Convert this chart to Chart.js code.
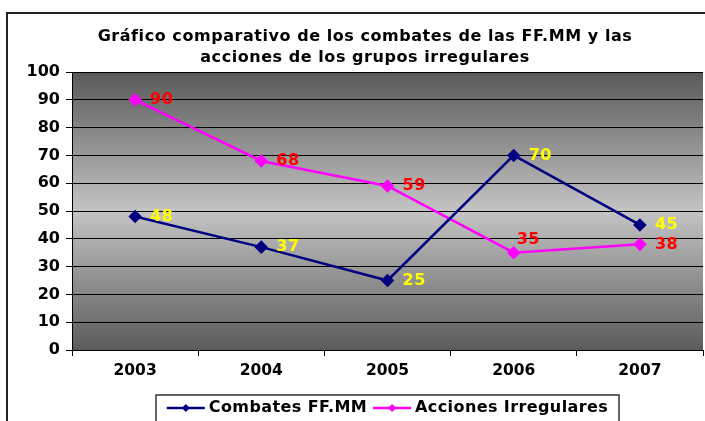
<!DOCTYPE html>
<html>
<head>
<meta charset="utf-8">
<script src="https://cdn.jsdelivr.net/npm/chart.js@4"></script>
<style>
  html, body { margin: 0; padding: 0; background: #fff; overflow: hidden; }
  #wrap { position: relative; width: 705px; height: 421px; }
  #frame { position: absolute; left: 6px; top: 12px; width: 720px; height: 440px; border: 2px solid #222; box-sizing: border-box; }
  canvas { position: absolute; left: 0; top: 0; }
</style>
</head>
<body>
<div id="wrap">
  <div id="frame"></div>
  <canvas id="chart" width="705" height="421"></canvas>
</div>
<script>
const years = ['2003', '2004', '2005', '2006', '2007'];
const combates = [48, 37, 25, 70, 45];
const acciones = [90, 68, 59, 35, 38];
const titleLines = ['Gráfico comparativo de los combates de las FF.MM y las', 'acciones de los grupos irregulares'];
const FONT = '"DejaVu Sans", Verdana, sans-serif';

// gray gradient behind the plot
const plotBackground = {
  id: 'plotBackground',
  beforeDraw(chart) {
    const { ctx, chartArea: a } = chart;
    const g = ctx.createLinearGradient(0, a.top, 0, a.bottom);
    g.addColorStop(0, '#595959');
    g.addColorStop(0.5, '#c4c4c4');
    g.addColorStop(1, '#5b5b5b');
    ctx.save();
    ctx.fillStyle = g;
    ctx.fillRect(a.left, a.top, a.right - a.left, a.bottom - a.top);
    ctx.restore();
  }
};

// title, value labels and boxed legend
const extras = {
  id: 'extras',
  afterDatasetsDraw(chart) {
    const ctx = chart.ctx;
    ctx.save();
    ctx.font = 'bold 16px ' + FONT;
    ctx.letterSpacing = '0.5px';
    ctx.textBaseline = 'middle';
    ctx.textAlign = 'left';
    chart.data.datasets.forEach((ds, i) => {
      const meta = chart.getDatasetMeta(i);
      meta.data.forEach((pt, j) => {
        ctx.fillStyle = ds.labelColor;
        let x = pt.x + 15, y = pt.y;
        if (ds.labelAbove && ds.labelAbove.includes(j)) { x = pt.x + 3; y = pt.y - 13; }
        ctx.fillText(String(ds.data[j]), x, y);
      });
    });
    ctx.restore();
  },
  afterDraw(chart) {
    const ctx = chart.ctx;
    ctx.save();
    ctx.fillStyle = '#000';
    ctx.font = 'bold 16px ' + FONT;
    ctx.letterSpacing = '0.55px';
    ctx.textAlign = 'center';
    ctx.textBaseline = 'middle';
    ctx.fillText(titleLines[0], 365, 37);
    ctx.fillText(titleLines[1], 365, 58);

    ctx.font = 'bold 16px ' + FONT;
    ctx.letterSpacing = '0.4px';
    ctx.textAlign = 'left';
    const lineW = 38, gap = 4, between = 6;
    const items = chart.data.datasets.map(ds => ({ ds, w: ctx.measureText(ds.label).width }));
    const total = items.reduce((s, it) => s + lineW + gap + it.w, 0) + between * (items.length - 1);
    const boxL = 156, boxR = 619, boxT = 395;
    ctx.fillStyle = '#fff';
    ctx.fillRect(boxL, boxT, boxR - boxL, 30);
    ctx.strokeStyle = '#333';
    ctx.lineWidth = 1.5;
    ctx.strokeRect(boxL, boxT, boxR - boxL, 30);
    let x = (boxL + boxR) / 2 - total / 2;
    const y = 408;
    items.forEach(it => {
      ctx.strokeStyle = it.ds.borderColor;
      ctx.lineWidth = 2.5;
      ctx.beginPath();
      ctx.moveTo(x, y);
      ctx.lineTo(x + lineW, y);
      ctx.stroke();
      ctx.fillStyle = it.ds.borderColor;
      ctx.beginPath();
      const cx = x + lineW / 2;
      ctx.moveTo(cx, y - 4); ctx.lineTo(cx + 4, y); ctx.lineTo(cx, y + 4); ctx.lineTo(cx - 4, y);
      ctx.closePath();
      ctx.fill();
      ctx.fillStyle = '#000';
      ctx.fillText(it.ds.label, x + lineW + gap, y);
      x += lineW + gap + it.w + between;
    });
    ctx.restore();
  }
};

new Chart(document.getElementById('chart'), {
  type: 'line',
  data: {
    labels: years,
    datasets: [
      {
        label: 'Combates FF.MM',
        data: combates,
        borderColor: '#000080',
        backgroundColor: '#000080',
        labelColor: '#ffff00',
        borderWidth: 2.5,
        pointStyle: 'rectRot',
        pointRadius: 5,
        pointHoverRadius: 5,
        tension: 0
      },
      {
        label: 'Acciones Irregulares',
        data: acciones,
        borderColor: '#ff00ff',
        backgroundColor: '#ff00ff',
        labelColor: '#ff0000',
        labelAbove: [3],
        borderWidth: 2.5,
        pointStyle: 'rectRot',
        pointRadius: 5,
        pointHoverRadius: 5,
        tension: 0
      }
    ]
  },
  options: {
    responsive: false,
    animation: false,
    layout: { autoPadding: false, padding: { top: 72, left: 0, right: 2, bottom: 36 } },
    plugins: {
      legend: { display: false },
      title: { display: false },
      tooltip: { enabled: false }
    },
    scales: {
      x: {
        offset: true,
        afterFit(scale) { scale.height = 35; scale.paddingLeft = 0; scale.paddingRight = 0; },
        grid: { offset: true, drawOnChartArea: false, drawTicks: true, tickLength: 6, color: '#000', lineWidth: 1 },
        border: { color: '#000', width: 1 },
        ticks: { color: '#000', font: { family: FONT, size: 15.5, weight: 'bold' }, padding: 6 }
      },
      y: {
        min: 0,
        max: 100,
        afterFit(scale) { scale.width = 72; scale.paddingTop = 0; scale.paddingBottom = 0; },
        grid: { color: '#000', lineWidth: 1, tickLength: 6 },
        border: { color: '#000', width: 1 },
        ticks: { stepSize: 10, color: '#000', font: { family: FONT, size: 16, weight: 'bold' }, padding: 6 }
      }
    }
  },
  plugins: [plotBackground, extras]
});
</script>
</body>
</html>
